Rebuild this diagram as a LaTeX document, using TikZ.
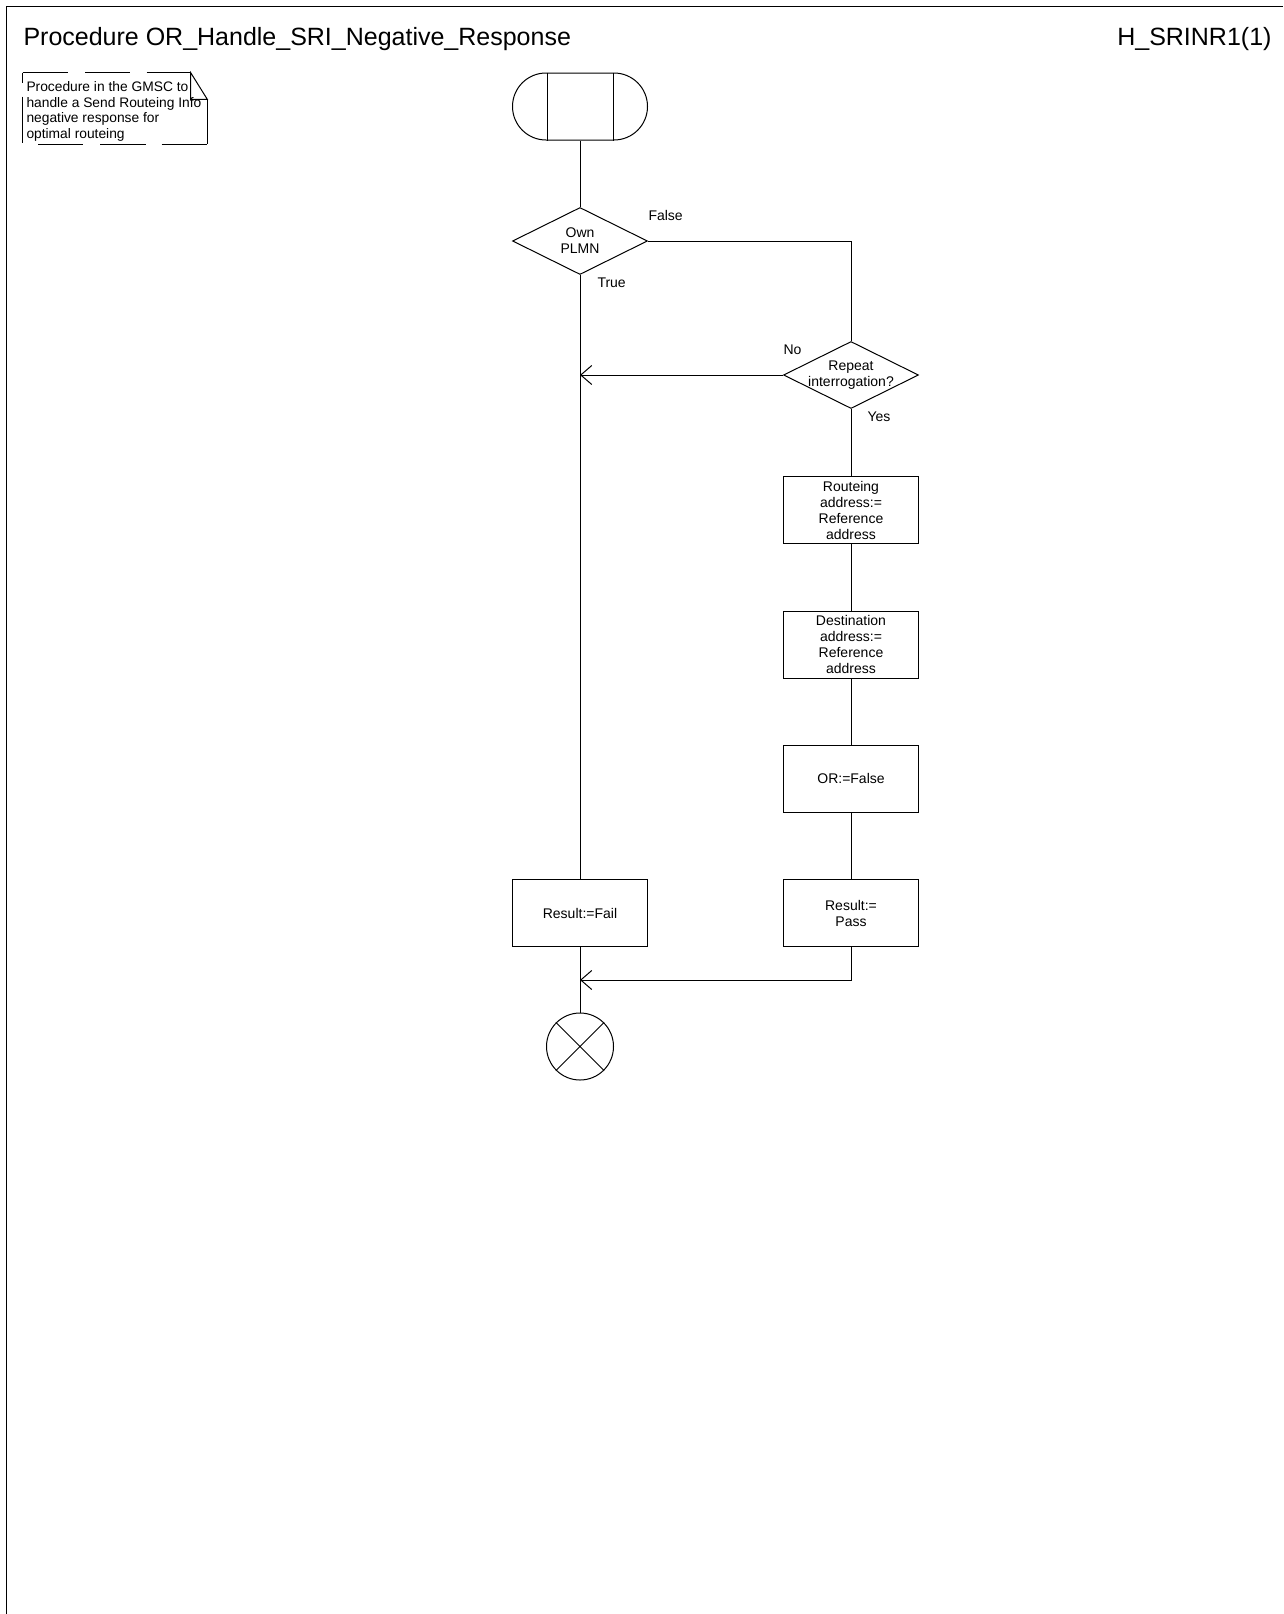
\documentclass[tikz,border=0pt]{standalone}
\usepackage{fontspec}
\setmainfont{Liberation Sans}
\usetikzlibrary{shapes.geometric,shapes.misc,arrows.meta}
\begin{document}
\begin{tikzpicture}[x=1pt,y=-1pt, line width=1pt,
  every node/.style={font=\fontsize{14}{16}\selectfont, inner sep=0pt},
  task/.style={draw, rectangle, minimum width=135pt, minimum height=67pt, align=center},
  dec/.style={draw, diamond, minimum width=135pt, minimum height=67pt},
  txt/.style={align=center},
  lbl/.style={anchor=west},
  arr/.style={-{Straight Barb[length=11pt,width=19pt]}}]
\useasboundingbox (0,0) rectangle (1283,1614);
% frame
\draw (6.5,1614) -- (6.5,6.5) -- (1283,6.5);
\node[anchor=base west, font=\fontsize{25}{30}\selectfont] (title) at (23,45) {Procedure OR\_Handle\_SRI\_Negative\_Response};
\node[anchor=base east, font=\fontsize{25}{30}\selectfont] (page) at (1272,45) {H\_SRINR1(1)};
% comment
\node[anchor=north west, align=left, font=\fontsize{13.8}{15.6}\selectfont] (cmt) at (26,81) {Procedure in the GMSC to\\handle a Send Routeing Info\\negative response for\\optimal routeing};
\draw (22.7,72.7) -- (68.3,72.7) (85,72.7) -- (130,72.7) (146.7,72.7) -- (190.7,72.7);
\draw (190.7,72.7) -- (207.3,99.3) -- (190.7,99.3) -- cycle;
\draw (207.3,99.3) -- (207.3,144.3);
\draw (38.3,144.3) -- (83.3,144.3) (100,144.3) -- (145.7,144.3) (161.7,144.3) -- (207.3,144.3);
\draw (22.7,72.7) -- (22.7,82.7) (22.7,96.7) -- (22.7,143.3);
% start
\node[draw, rounded rectangle, minimum width=135pt, minimum height=67pt] (start) at (580,106.5) {};
\draw ([xshift=-33pt]start.north) -- ([xshift=-33pt]start.south);
\draw ([xshift=33pt]start.north) -- ([xshift=33pt]start.south);
% decisions
\node[dec] (d1) at (580,241) {};
\node[txt] (d1t) at (d1) {Own\\PLMN};
\node[dec] (d2) at (851,375) {};
\node[txt] (d2t) at (d2) {Repeat\\interrogation?};
% tasks
\node[task] (b1) at (851,510) {Routeing\\address:=\\Reference\\address};
\node[task] (b2) at (851,644.5) {Destination\\address:=\\Reference\\address};
\node[task] (b3) at (851,778.5) {OR:=False};
\node[task] (pass) at (851,913) {Result:=\\Pass};
\node[task] (fail) at (580,913) {Result:=Fail};
% end
\node[draw, circle, minimum size=67pt] (stop) at (580,1046.5) {};
\draw (stop.north west) -- (stop.south east) (stop.north east) -- (stop.south west);
% labels
\node[lbl] (lf) at (648,215) {False};
\node[lbl] (lt) at (597,283) {True};
\node[lbl] (ln) at (783,350) {No};
\node[lbl] (ly) at (867,417) {Yes};
% connectors
\draw (start.south) -- (d1.north);
\draw (d1.east) -| (d2.north);
\draw (d1.south) -- (fail.north);
\coordinate (m1) at (d1.south |- d2.west);
\draw[arr] (d2.west) -- (m1);
\draw (d2.south) -- (b1.north);
\draw (b1.south) -- (b2.north);
\draw (b2.south) -- (b3.north);
\draw (b3.south) -- (pass.north);
\draw (fail.south) -- (stop.north);
\coordinate (m2) at (580,980);
\draw[arr] (pass.south) |- (m2);
\end{tikzpicture}
\end{document}
